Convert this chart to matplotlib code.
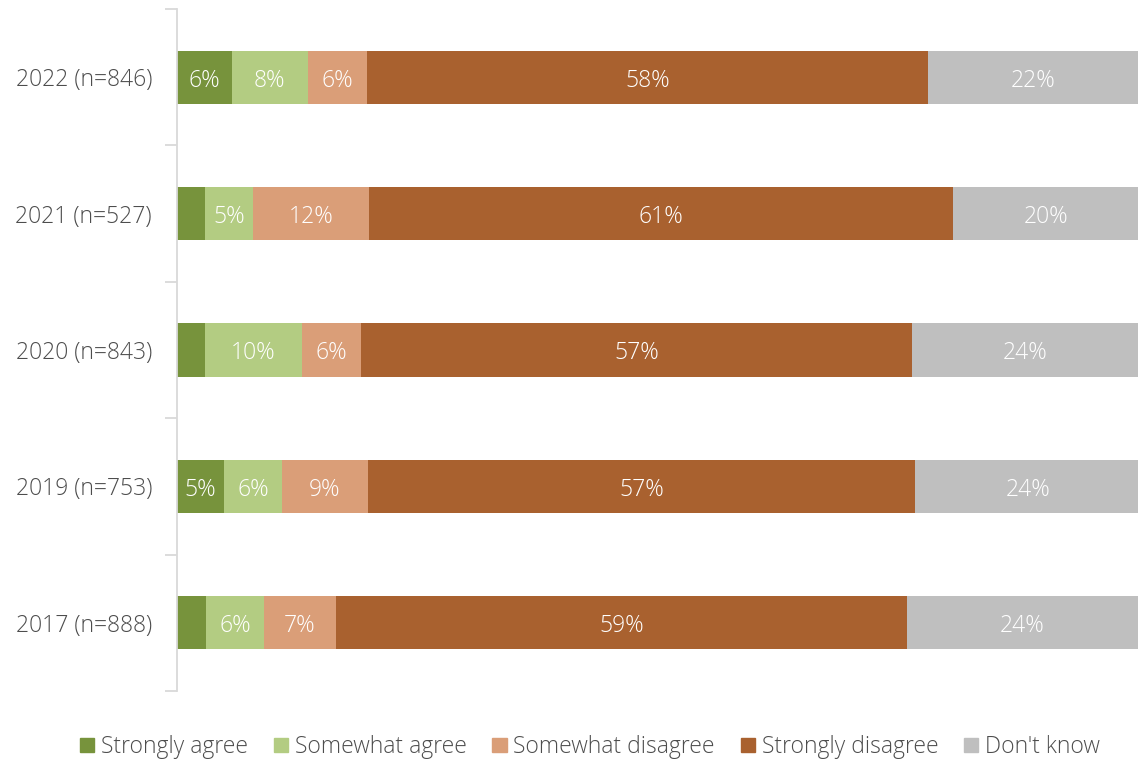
import matplotlib
matplotlib.use("Agg")
import matplotlib.pyplot as plt
from matplotlib.patches import Patch

plt.rcParams['font.family'] = ['Open Sans', 'DejaVu Sans']

years = ["2022 (n=846)", "2021 (n=527)", "2020 (n=843)", "2019 (n=753)", "2017 (n=888)"]
series_names = ["Strongly agree", "Somewhat agree", "Somewhat disagree", "Strongly disagree", "Don't know"]
strongly_agree = [5.7, 2.9, 2.9, 4.9, 3.0]
somewhat_agree = [7.9, 5.0, 10.1, 6.0, 6.1]
somewhat_disagree = [6.2, 12.1, 6.1, 9.0, 7.4]
strongly_disagree = [58.3, 60.7, 57.4, 56.9, 59.49]
dont_know = [22.0, 19.5, 23.6, 23.6, 24.0]
colors = ["#77933C", "#B3CC82", "#DA9E78", "#A9612F", "#BFBFBF"]

series = [strongly_agree, somewhat_agree, somewhat_disagree, strongly_disagree, dont_know]

fig = plt.figure(figsize=(11.38, 7.6), dpi=100)
ax = fig.add_axes([177/1138, 1 - 691/760, 1 - 177/1138, (691 - 9)/760])

ypos = list(range(len(years)))
left = [0.0] * len(years)
for name, vals, col in zip(series_names, series, colors):
    ax.barh(ypos, vals, left=left, height=0.39, color=col, label=name)
    for i, (v, l) in enumerate(zip(vals, left)):
        if v >= 4.5:
            ax.text(l + v / 2, i + 0.025, f"{round(v)}%", ha='center', va='center',
                    color='white', fontsize=16.5, fontweight='light')
    left = [a + b for a, b in zip(left, vals)]

ax.set_xlim(0, 100)
ax.set_ylim(len(years) - 0.5, -0.5)
ax.set_yticks(ypos)
ax.set_yticklabels(years, fontsize=16.5, color='#4d4d4d', fontweight='light')
ax.set_yticks([i - 0.5 for i in range(len(years) + 1)], minor=True)
ax.tick_params(axis='y', which='major', length=0, pad=18)
ax.tick_params(axis='y', which='minor', length=9, color='#D9D9D9', width=1.3)
ax.set_xticks([])
for s in ['top', 'right', 'bottom']:
    ax.spines[s].set_visible(False)
ax.spines['left'].set_color('#D9D9D9')
ax.spines['left'].set_linewidth(1.3)

handles = [Patch(color=c, label=n) for n, c in zip(series_names, colors)]
fig.legend(handles=handles, loc='center', bbox_to_anchor=(590/1138, 1 - 747/760), ncol=5,
           frameon=False, prop={'size': 16.5, 'weight': 'light'},
           handlelength=0.62, handleheight=0.62,
           handletextpad=0.3, columnspacing=1.12, labelcolor='#4d4d4d')

fig.savefig("out.png", dpi=100)
